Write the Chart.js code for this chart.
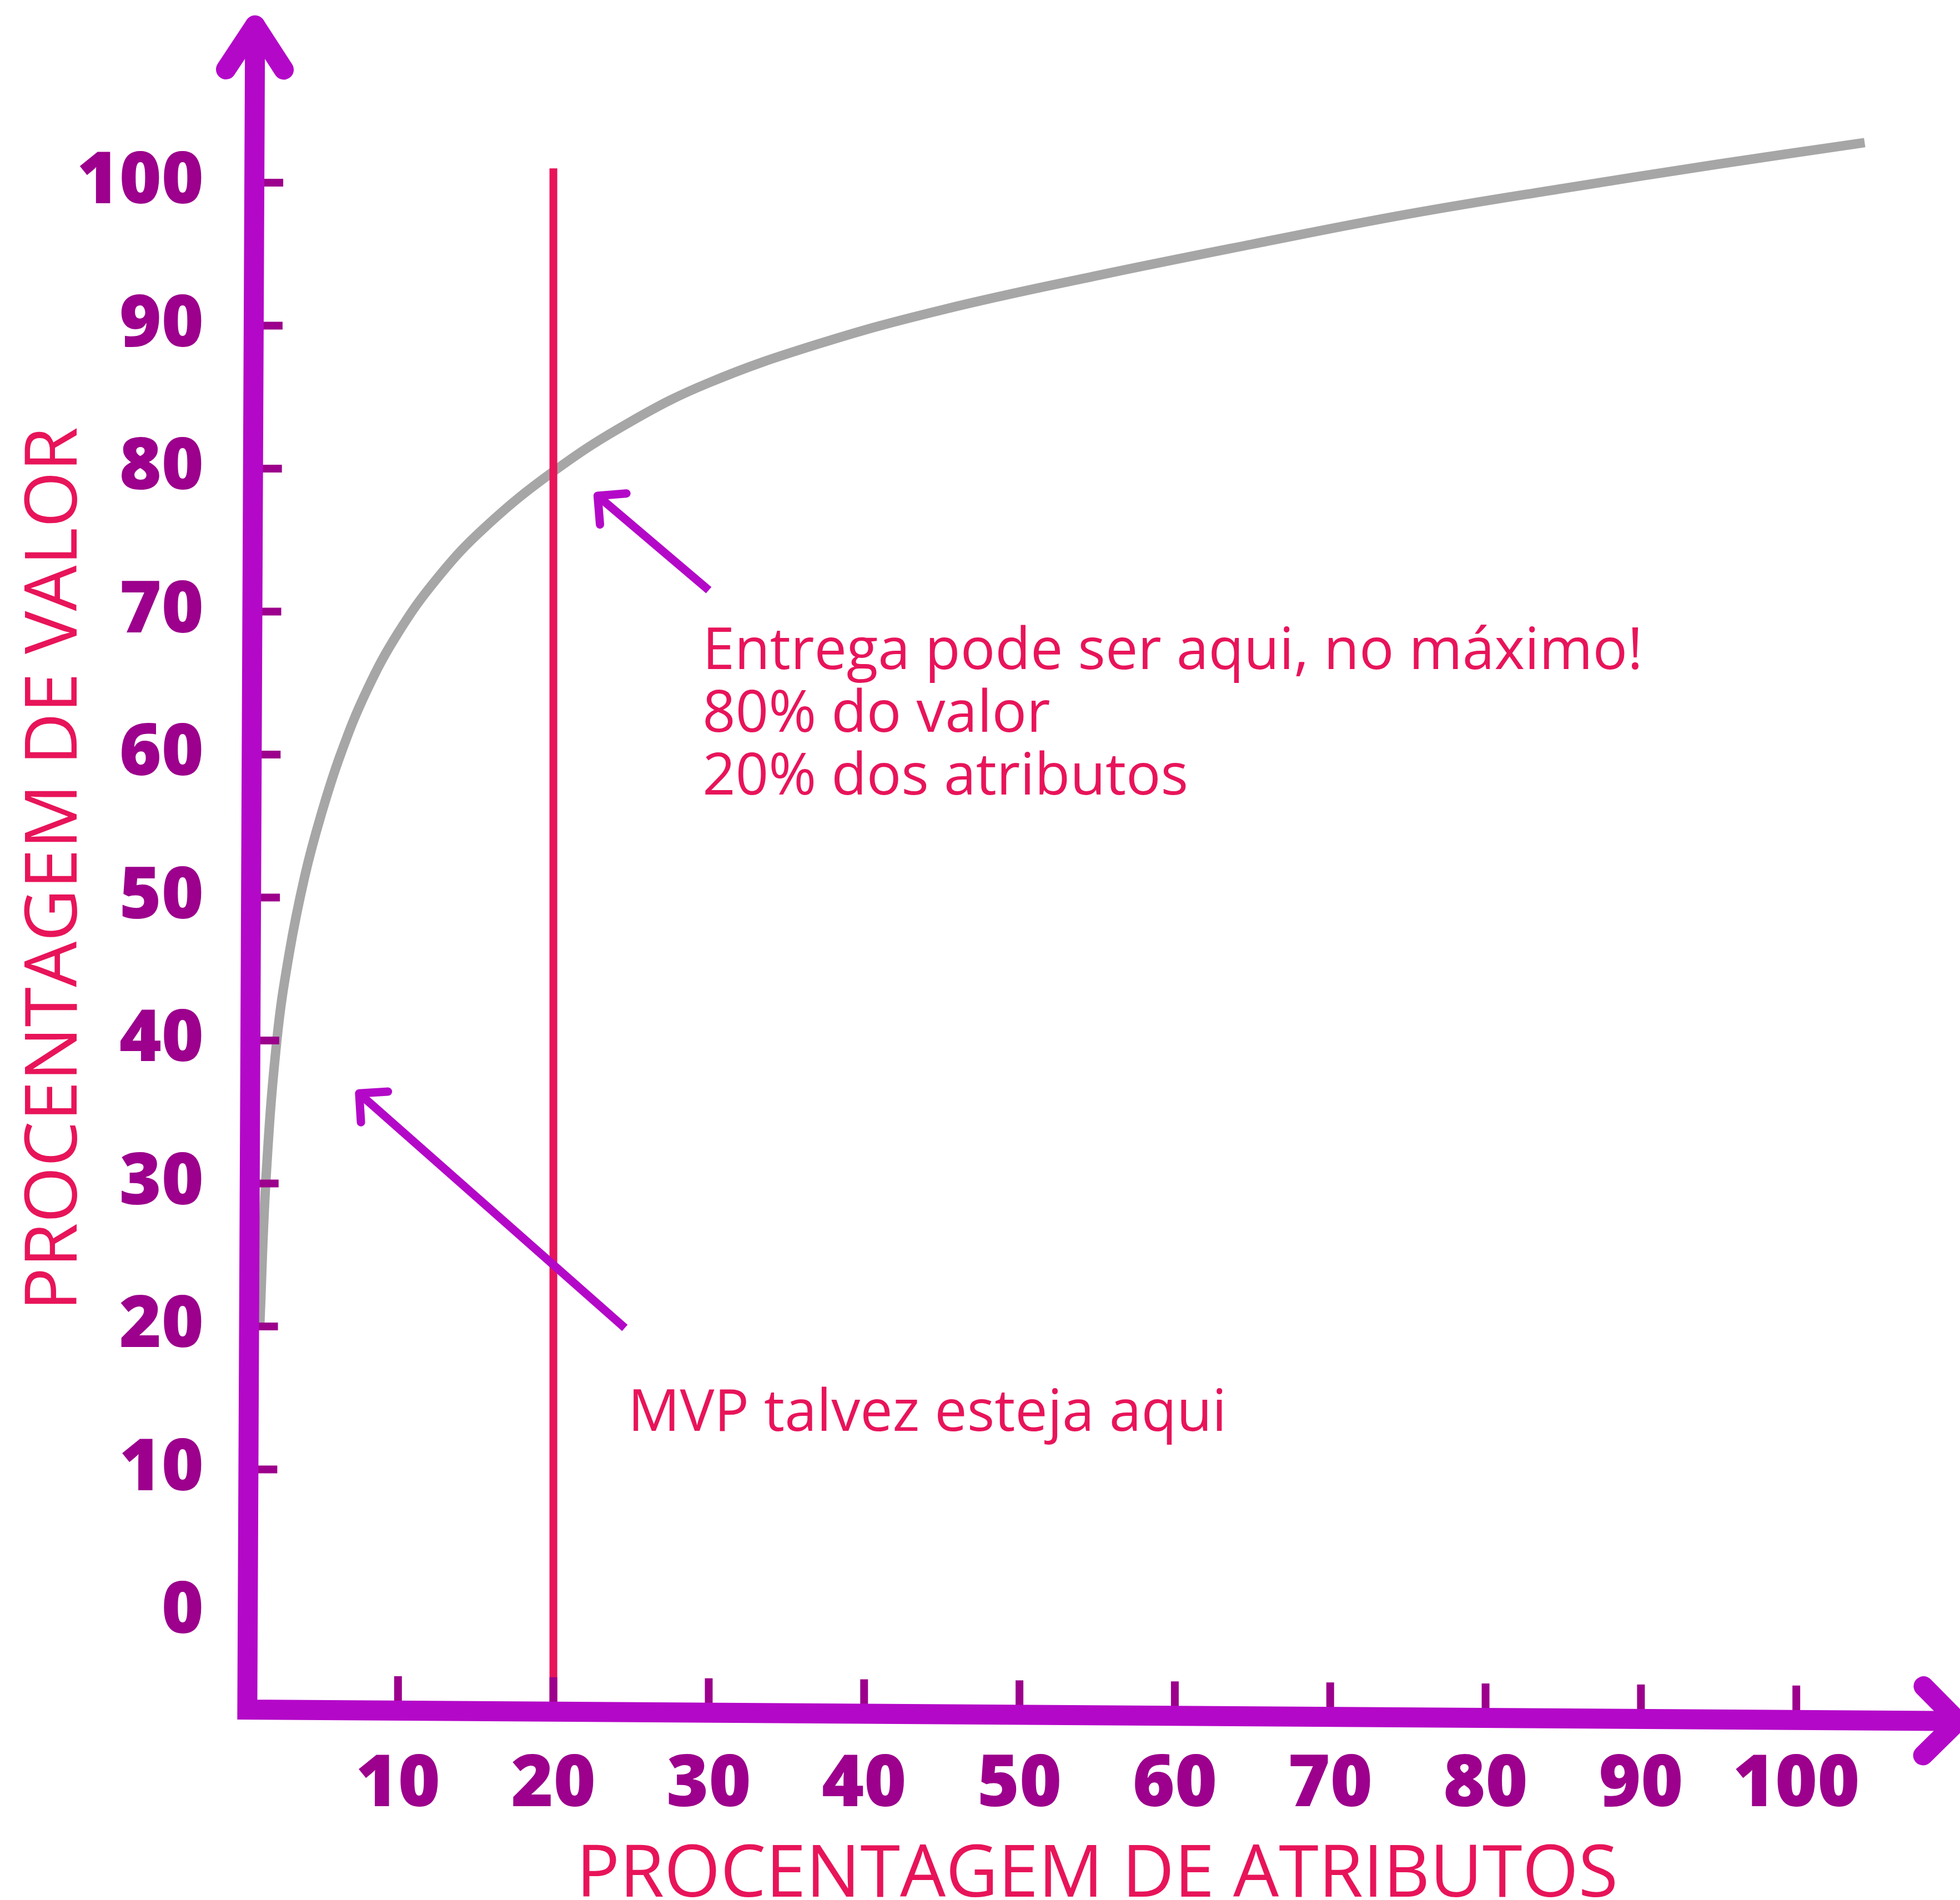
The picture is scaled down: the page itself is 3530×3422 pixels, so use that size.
<!DOCTYPE html>
<html>
<head>
<meta charset="utf-8">
<script src="https://cdn.jsdelivr.net/npm/chart.js@4.4.1/dist/chart.umd.min.js"></script>
<style>
  html, body { margin: 0; padding: 0; background: #fff; }
  canvas { display: block; }
</style>
</head>
<body>
<canvas id="paretoChart" width="3530" height="3422"></canvas>
<script>
// curva de valor: % de atributos x % de valor
const attrPct  = [1.1, 1.5, 2.2, 3.0, 4.0, 5.0, 6.3, 8.0, 10.0, 12.5, 15.5, 20.0, 25.0, 30.0, 37.0, 45.0, 55.0, 65.0, 75.0, 85.0, 95.0, 104.4];
const valuePct = [20, 30.3, 40, 46.1, 51.5, 55.6, 60, 64.5, 68.5, 72.3, 75.8, 79.8, 83.3, 86.0, 88.7, 91.1, 93.5, 95.7, 97.8, 99.6, 101.3, 102.8];

// linha vermelha nos 20% dos atributos
const cutX = [20, 20];
const cutY = [101, -7];

const xTickValues = [10, 20, 30, 40, 50, 60, 70, 80, 90, 100];
const yTickValues = [0, 10, 20, 30, 40, 50, 60, 70, 80, 90, 100];

const xTitle = 'PROCENTAGEM DE ATRIBUTOS';
const yTitle = 'PROCENTAGEM DE VALOR';

const noteTop = ['Entrega pode ser aqui, no máximo!', '80% do valor', '20% dos atributos'];
const noteMvp = ['MVP talvez esteja aqui'];

const PURPLE = '#b408c8';
const TICK = '#9c008c';
const RED = '#e8145a';
const GRAY = '#a6a6a6';

function arms(ctx, tx, ty, ang, len, spread) {
  // bracos da ponta da seta, voltando na direcao contraria
  ctx.beginPath();
  ctx.moveTo(tx + len * Math.cos(ang + Math.PI - spread), ty + len * Math.sin(ang + Math.PI - spread));
  ctx.lineTo(tx, ty);
  ctx.lineTo(tx + len * Math.cos(ang + Math.PI + spread), ty + len * Math.sin(ang + Math.PI + spread));
  ctx.stroke();
}

const sketchPlugin = {
  id: 'sketch',
  afterDatasetsDraw(chart, args, opts) {
    const { ctx, scales: { x, y } } = chart;
    const px = v => x.getPixelForValue(v);
    const py = v => y.getPixelForValue(v);
    ctx.save();

    // setas das anotacoes
    ctx.strokeStyle = PURPLE;
    ctx.lineWidth = 15;
    opts.arrows.forEach(a => {
      const x0 = px(a[0]), y0 = py(a[1]), x1 = px(a[2]), y1 = py(a[3]);
      ctx.lineCap = 'butt';
      ctx.beginPath();
      ctx.moveTo(x0, y0);
      ctx.lineTo(x1, y1);
      ctx.stroke();
      ctx.lineCap = 'round';
      ctx.lineJoin = 'round';
      arms(ctx, x1, y1, Math.atan2(y1 - y0, x1 - x0), 52, Math.PI / 4);
    });

    // textos
    ctx.fillStyle = RED;
    ctx.font = '104px "Open Sans"';
    ctx.textAlign = 'left';
    ctx.textBaseline = 'alphabetic';
    opts.notes.forEach(n => {
      n.lines.forEach((t, i) => ctx.fillText(t, px(n.x), py(n.y) + i * 113));
    });

    // eixos desenhados a mao
    const top = { x: px(0.8), y: py(111.0) };
    const corner = { x: px(0.3), y: py(-6.8) };
    const right = { x: px(110.4), y: py(-7.6) };
    const axisXAt = yy => corner.x + (top.x - corner.x) * (yy - corner.y) / (top.y - corner.y);
    const axisYAt = xx => corner.y + (right.y - corner.y) * (xx - corner.x) / (right.x - corner.x);

    ctx.strokeStyle = TICK;
    ctx.lineWidth = 14;
    ctx.lineCap = 'butt';
    yTickValues.filter(v => v > 0).forEach(v => {
      const yy = py(v), xa = axisXAt(yy);
      ctx.beginPath();
      ctx.moveTo(xa, yy);
      ctx.lineTo(xa + 52, yy);
      ctx.stroke();
    });
    xTickValues.forEach(v => {
      const xx = px(v), ya = axisYAt(xx);
      ctx.beginPath();
      ctx.moveTo(xx, ya);
      ctx.lineTo(xx, ya - 62);
      ctx.stroke();
    });

    ctx.strokeStyle = PURPLE;
    ctx.lineWidth = 36;
    ctx.lineCap = 'round';
    ctx.lineJoin = 'miter';
    ctx.beginPath();
    ctx.moveTo(top.x, top.y);
    ctx.lineTo(corner.x, corner.y);
    ctx.lineTo(right.x, right.y);
    ctx.stroke();
    ctx.lineJoin = 'round';
    arms(ctx, top.x, top.y, Math.atan2(top.y - corner.y, top.x - corner.x), 95, 0.58);
    arms(ctx, right.x, right.y, Math.atan2(right.y - corner.y, right.x - corner.x), 88, Math.PI / 4);

    ctx.restore();
  }
};

const tickFont = { family: '"Open Sans"', weight: 800, size: 130 };
const titleFont = { family: '"Open Sans"', size: 130, lineHeight: 0.66 };

new Chart(document.getElementById('paretoChart'), {
  type: 'line',
  data: {
    datasets: [
      {
        label: 'corte 20%',
        data: cutX.map((v, i) => ({ x: v, y: cutY[i] })),
        borderColor: RED,
        borderWidth: 14,
        pointRadius: 0,
        order: 1
      },
      {
        label: 'valor',
        data: attrPct.map((v, i) => ({ x: v, y: valuePct[i] })),
        borderColor: GRAY,
        borderWidth: 17,
        pointRadius: 0,
        tension: 0.4,
        order: 2
      }
    ]
  },
  options: {
    responsive: false,
    animation: false,
    devicePixelRatio: 1,
    layout: { padding: { top: 20, right: 15, left: 0, bottom: 0 } },
    plugins: {
      legend: { display: false },
      tooltip: { enabled: false },
      sketch: {
        arrows: [
          [30.0, 71.5, 22.85, 78.1],
          [24.6, 19.9, 7.5, 36.3]
        ],
        notes: [
          { x: 29.6, y: 66.0, lines: noteTop },
          { x: 24.8, y: 12.7, lines: noteMvp }
        ]
      }
    },
    scales: {
      x: {
        type: 'linear',
        min: 0,
        max: 110,
        afterBuildTicks: s => { s.ticks = xTickValues.map(v => ({ value: v })); },
        afterFit: s => { s.height = 312; },
        grid: { display: false, drawTicks: false },
        border: { display: false },
        ticks: { color: TICK, font: tickFont, padding: 28, maxRotation: 0, autoSkip: false },
        title: { display: true, text: xTitle, color: RED, font: titleFont, padding: { top: 0, bottom: 0 } }
      },
      y: {
        type: 'linear',
        min: -8,
        max: 112,
        afterBuildTicks: s => { s.ticks = yTickValues.map(v => ({ value: v })); },
        afterFit: s => { s.width = 437; s.paddingTop = 0; s.paddingBottom = 0; },
        grid: { display: false, drawTicks: false },
        border: { display: false },
        ticks: { color: TICK, font: tickFont, padding: 70, autoSkip: false },
        title: { display: true, text: yTitle, color: RED, font: titleFont, padding: { top: 58, bottom: 0 } }
      }
    }
  },
  plugins: [sketchPlugin]
});
</script>
</body>
</html>
